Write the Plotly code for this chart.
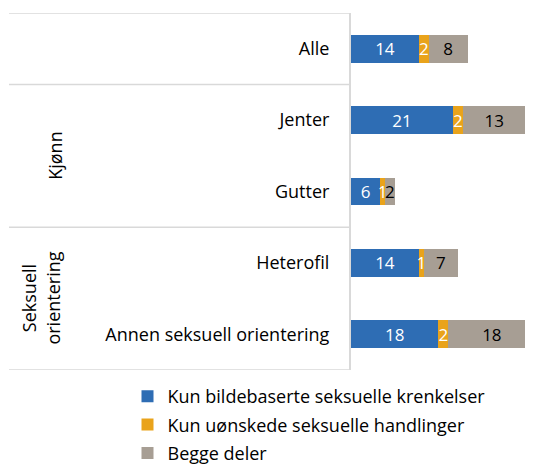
import plotly.graph_objects as go

categories = ["Alle", "Jenter", "Gutter", "Heterofil", "Annen seksuell orientering"]
kun_bilde = [14, 21, 6, 14, 18]
kun_handlinger = [2, 2, 1, 1, 2]
begge = [8, 13, 2, 7, 18]
series_names = ["Kun bildebaserte seksuelle krenkelser",
                "Kun uønskede seksuelle handlinger",
                "Begge deler"]
group_labels = [("Kjønn", 1.5), ("Seksuell<br>orientering", 3.5)]
separators = [-0.5, 0.5, 2.5, 4.5]

colors = ["#2E6DB4", "#E9A31B", "#A79E94"]
text_colors = ["white", "white", "black"]
FONT = "Open Sans"
FS = 18

# page body has an 8px default margin; figure coordinates are page - 8
OFF = 8
W, H = 533 - OFF, 464 - OFF
L, R, T, B = 351 - OFF, 0, 13 - OFF, 464 - 370
pw = W - L - R
ph = H - T - B

def px_to_paper_x(px_page):
    return (px_page - OFF - L) / pw

fig = go.Figure()
for name, vals, col, tcol in zip(series_names, [kun_bilde, kun_handlinger, begge], colors, text_colors):
    fig.add_trace(go.Bar(
        y=categories, x=vals, name=name, orientation="h",
        marker=dict(color=col, line=dict(width=0)),
        text=[str(v) for v in vals], textposition="inside",
        insidetextanchor="middle", textangle=0,
        textfont=dict(color=tcol, size=17, family=FONT),
        constraintext="none", legendgroup=name,
    ))

shapes = []
for s in separators:
    shapes.append(dict(type="line", xref="paper", yref="y",
                       x0=px_to_paper_x(9), x1=0, y0=s, y1=s,
                       line=dict(color="#D9D9D9", width=1.5)))

annotations = []
for text, yc in group_labels:
    xpx = 55 if "<br>" not in text else 41
    annotations.append(dict(text=text, xref="paper", yref="y",
                            x=px_to_paper_x(xpx), y=yc, showarrow=False,
                            textangle=-90, font=dict(size=FS, family=FONT, color="black"),
                            xanchor="center", yanchor="middle"))

fig.update_layout(
    width=W, height=H,
    margin=dict(l=L, r=R, t=T, b=B, autoexpand=False),
    barmode="stack", bargap=0.608,
    plot_bgcolor="white", paper_bgcolor="white",
    font=dict(family=FONT, size=FS, color="black"),
    uniformtext=dict(mode="show", minsize=17),
    xaxis=dict(range=[0, (533 - 351) / (68 / 14)], visible=False),
    yaxis=dict(categoryorder="array", categoryarray=categories, automargin=False,
               range=[4.5, -0.5], showline=True, linecolor="#D9D9D9", linewidth=2,
               ticks="", ticklabelstandoff=16, tickfont=dict(size=FS, family=FONT, color="black"),
               showgrid=False),
    legend=dict(orientation="v", xref="container", yref="container",
                x=(147.5 - OFF - 20) / W, y=1 - (397 - OFF - 19) / H,
                xanchor="left", yanchor="top", traceorder="grouped",
                font=dict(size=FS, family=FONT, color="black"), tracegroupgap=2),
    showlegend=True,
    shapes=shapes, annotations=annotations,
)

fig.write_html("out.html")
